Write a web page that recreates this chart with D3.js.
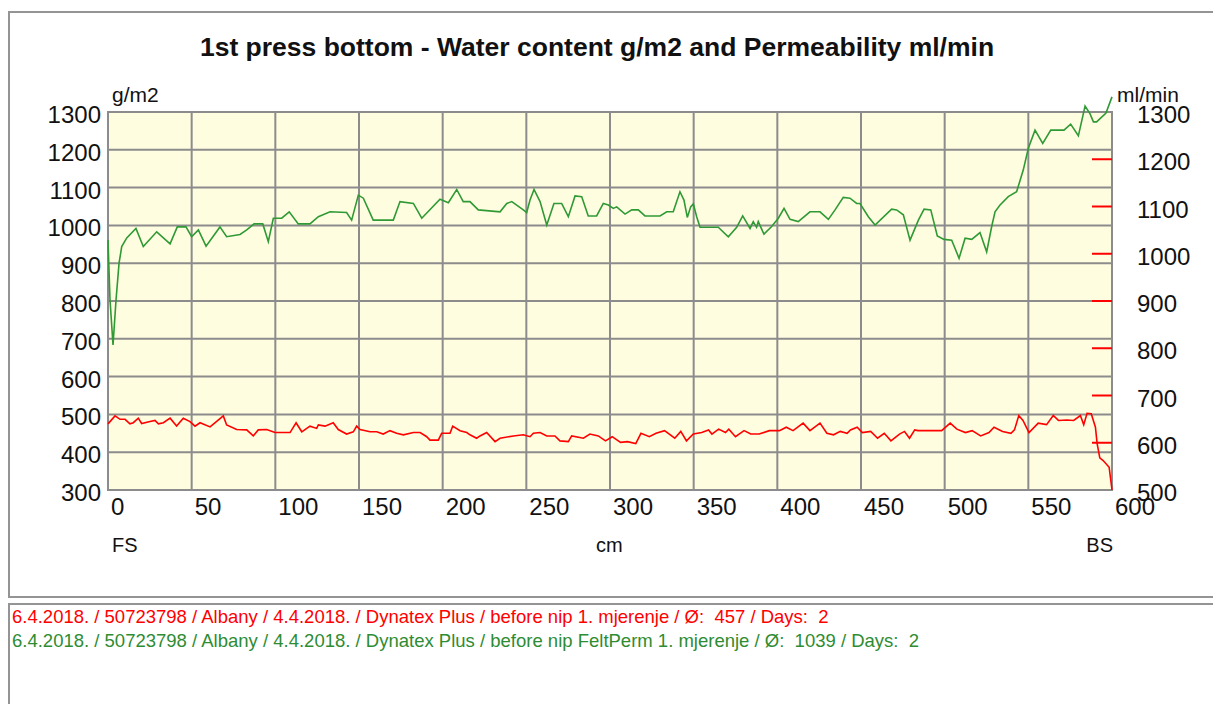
<!DOCTYPE html>
<html>
<head>
<meta charset="utf-8">
<script src="https://cdn.jsdelivr.net/npm/d3@7"></script>
<style>
    body { margin: 0; background: #ffffff; }
    svg { display: block; font-family: Arial, "Liberation Sans", sans-serif; }
</style>
</head>
<body>
<div id="chart"></div>
<script>
// Water content (red) - position in cm and g/m2
const redCm = [0, 4.2, 7.2, 10.2, 13.1, 15.1, 18.1, 20.1, 25.1, 28.1, 30.1, 33.1, 37.1, 41.0, 45.0, 49.0, 52.0, 55.0, 61.0, 68.9,
    70.9, 76.9, 82.9, 86.8, 89.8, 94.8, 99.8, 108.8, 112.4, 115.8, 120.7, 124.7, 125.7, 129.7, 134.6, 137.6, 142.6, 146.6, 148.6, 150.6,
    156.6, 160.6, 164.5, 168.5, 172.5, 176.5, 182.5, 186.5, 190.5, 192.4, 197.4, 199.4, 204.4, 206.0, 210.4, 214.4, 216.3, 220.3, 222.3, 226.3,
    231.3, 234.3, 242.2, 248.2, 252.2, 254.2, 258.2, 262.2, 267.1, 270.1, 275.1, 277.1, 284.1, 288.0, 293.0, 297.3, 301.3, 306.3, 310.4, 315.4,
    318.5, 323.5, 327.5, 332.6, 338.7, 342.3, 345.7, 349.8, 354.8, 358.9, 360.9, 364.9, 369.0, 371.0, 375.0, 380.1, 384.1, 389.2, 395.2, 401.3,
    405.3, 409.4, 415.4, 419.5, 425.5, 429.6, 433.6, 437.6, 441.7, 443.7, 447.7, 450.8, 455.8, 459.9, 463.9, 467.9, 473.0, 476.0, 479.0, 482.1,
    484.1, 498.2, 503.3, 507.3, 512.4, 516.4, 521.5, 526.5, 529.5, 534.6, 539.6, 541.7, 544.3, 546.8, 550.4, 555.9, 560.9, 564.9, 568.0, 573.0,
    577.1, 581.1, 583.1, 585.1, 587.6, 590.1, 591.1, 592.7, 594.7, 598.3, 600];
const redVal = [475, 496, 487, 487, 475, 478, 490, 476, 481, 484, 475, 478, 490, 469, 490, 481, 469, 478, 467, 496,
    472, 460, 459, 443, 459, 460, 452, 452, 478, 454, 469, 463, 472, 469, 478, 460, 448, 454, 469, 460,
    454, 454, 448, 457, 450, 446, 452, 452, 441, 432, 432, 450, 450, 469, 457, 452, 446, 437, 443, 452,
    428, 437, 443, 446, 441, 450, 452, 443, 443, 430, 428, 443, 437, 448, 443, 430, 441, 426, 428, 423,
    450, 441, 450, 457, 437, 455, 430, 448, 452, 459, 448, 461, 452, 461, 441, 457, 448, 448, 457, 457,
    466, 457, 477, 457, 477, 450, 446, 455, 450, 459, 466, 452, 455, 437, 450, 430, 448, 455, 437, 459,
    457, 457, 477, 461, 452, 457, 443, 452, 466, 455, 450, 459, 497, 484, 452, 477, 473, 497, 484, 485,
    484, 497, 473, 503, 502, 466, 423, 385, 378, 360, 300];

// Permeability (green) - position in cm and ml/min
const greenCm = [0, 1.2, 3.0, 4.8, 6.6, 8.2, 11.2, 16.7, 21.1, 29.1, 37.1, 41.4, 46.6, 50.0, 54.0, 58.6, 66.9, 70.9, 78.9, 82.9,
    87.3, 92.5, 95.8, 98.8, 103.8, 108.3, 113.7, 120.7, 125.7, 132.7, 142.6, 145.6, 149.6, 152.6, 158.5, 170.5, 174.5, 182.5, 187.5, 198.4,
    203.4, 208.4, 212.3, 216.3, 221.3, 234.3, 238.3, 241.3, 248.2, 250.2, 252.2, 254.6, 258.2, 262.2, 266.5, 271.1, 275.1, 279.1, 283.1, 287.0,
    292.0, 296.0, 299.0, 302.0, 304.0, 309.0, 313.0, 316.9, 320.9, 329.9, 333.9, 337.8, 341.8, 344.2, 346.2, 348.2, 349.8, 351.8, 353.8, 364.7,
    370.7, 375.7, 379.3, 383.7, 385.6, 387.6, 388.6, 392.0, 396.6, 400.6, 404.0, 407.6, 412.5, 419.5, 425.5, 430.5, 434.5, 439.4, 443.4, 447.4,
    449.4, 454.4, 458.4, 468.3, 471.3, 475.3, 479.3, 484.3, 487.7, 491.7, 495.6, 499.6, 504.2, 508.6, 512.2, 516.2, 521.1, 525.1, 528.1, 530.1,
    533.1, 538.0, 543.0, 547.0, 550.0, 554.0, 558.6, 563.4, 571.3, 575.3, 579.9, 583.9, 586.9, 588.9, 590.8, 596.4, 600];
const greenVal = [961, 803, 684, 803, 900, 944, 967, 992, 944, 983, 951, 996, 996, 970, 988, 945, 996, 970, 976, 988,
    1004, 1004, 957, 1019, 1019, 1036, 1004, 1004, 1023, 1036, 1034, 1014, 1080, 1072, 1014, 1014, 1063, 1058, 1019, 1069,
    1060, 1095, 1063, 1063, 1041, 1036, 1058, 1063, 1041, 1034, 1067, 1095, 1063, 1001, 1058, 1058, 1023, 1078, 1076, 1025,
    1025, 1058, 1054, 1045, 1049, 1030, 1041, 1041, 1025, 1025, 1036, 1036, 1089, 1067, 1021, 1049, 1057, 1023, 995, 995,
    970, 995, 1025, 992, 1010, 995, 1010, 977, 997, 1019, 1045, 1016, 1010, 1036, 1036, 1016, 1041, 1074, 1072, 1058,
    1058, 1023, 1001, 1043, 1041, 1028, 961, 1014, 1043, 1041, 972, 963, 961, 913, 966, 963, 981, 930, 997, 1036,
    1054, 1076, 1089, 1147, 1204, 1252, 1217, 1252, 1252, 1268, 1237, 1316, 1295, 1274, 1274, 1297, 1340];

// Axis ticks
const xTicks = [0, 50, 100, 150, 200, 250, 300, 350, 400, 450, 500, 550, 600];
const leftTicks = [300, 400, 500, 600, 700, 800, 900, 1000, 1100, 1200, 1300];
const rightTicks = [500, 600, 700, 800, 900, 1000, 1100, 1200, 1300];

// Legend lines
const legendLines = [
    "6.4.2018. / 50723798 / Albany / 4.4.2018. / Dynatex Plus / before nip 1. mjerenje / Ø:  457 / Days:  2",
    "6.4.2018. / 50723798 / Albany / 4.4.2018. / Dynatex Plus / before nip FeltPerm 1. mjerenje / Ø:  1039 / Days:  2"
];

let width = 1213, height = 704;
let plot = { left: 108, right: 1112, top: 112, bottom: 490 };

const redColor = "#ff0000";
const greenColor = "#2f9a35";
const gridColor = "#8c8c8c";

let svg = d3.select('#chart')
    .append('svg')
    .attr('width', width)
    .attr('height', height);

// Chart frame and legend frame
svg.append('rect')
    .attr('x', 9).attr('y', 12)
    .attr('width', 1212).attr('height', 585)
    .attr('fill', 'white')
    .attr('stroke', '#949494')
    .attr('stroke-width', 2);

svg.append('rect')
    .attr('x', 9).attr('y', 604)
    .attr('width', 1212).attr('height', 110)
    .attr('fill', 'white')
    .attr('stroke', '#949494')
    .attr('stroke-width', 2);

// Scales
let xScale = d3.scaleLinear()
    .domain([0, 600])
    .range([plot.left, plot.right]);

let yLeft = d3.scaleLinear()
    .domain([300, 1300])
    .range([plot.bottom, plot.top]);

let yRight = d3.scaleLinear()
    .domain([500, 1300])
    .range([plot.bottom, plot.top]);

// Plot background
svg.append('rect')
    .attr('x', plot.left)
    .attr('y', plot.top)
    .attr('width', plot.right - plot.left)
    .attr('height', plot.bottom - plot.top)
    .attr('fill', '#fffde0');

// Grid
svg.append('g')
    .selectAll('line')
    .data(xTicks)
    .enter().append('line')
    .attr('x1', d => xScale(d)).attr('x2', d => xScale(d))
    .attr('y1', plot.top).attr('y2', plot.bottom)
    .attr('stroke', gridColor)
    .attr('stroke-width', 2);

svg.append('g')
    .selectAll('line')
    .data(leftTicks)
    .enter().append('line')
    .attr('x1', plot.left - 1).attr('x2', plot.right + 1)
    .attr('y1', d => yLeft(d)).attr('y2', d => yLeft(d))
    .attr('stroke', gridColor)
    .attr('stroke-width', 2);

// Red ticks of the right axis
svg.append('g')
    .selectAll('line')
    .data(rightTicks.slice(1, -1))
    .enter().append('line')
    .attr('x1', plot.right - 20).attr('x2', plot.right)
    .attr('y1', d => yRight(d)).attr('y2', d => yRight(d))
    .attr('stroke', redColor)
    .attr('stroke-width', 2);

// Lines
let line = d3.line()
    .x(d => xScale(d[0]))
    .y(d => yLeft(d[1]));

svg.append('path')
    .datum(redCm.map((c, i) => [c, redVal[i]]))
    .attr('d', line)
    .attr('fill', 'none')
    .attr('stroke', redColor)
    .attr('stroke-width', 1.6);

svg.append('path')
    .datum(greenCm.map((c, i) => [c, greenVal[i]]))
    .attr('d', line)
    .attr('fill', 'none')
    .attr('stroke', greenColor)
    .attr('stroke-width', 1.6);

// Axis labels
svg.append('g')
    .selectAll('text')
    .data(leftTicks)
    .enter().append('text')
    .attr('x', 101)
    .attr('y', d => yLeft(d) + 11)
    .attr('text-anchor', 'end')
    .style('font-size', '24px')
    .attr('fill', '#111')
    .text(d => d);

svg.append('g')
    .selectAll('text')
    .data(rightTicks)
    .enter().append('text')
    .attr('x', 1137)
    .attr('y', d => yRight(d) + 11)
    .style('font-size', '24px')
    .attr('fill', '#111')
    .text(d => d);

svg.append('g')
    .selectAll('text')
    .data(xTicks)
    .enter().append('text')
    .attr('x', d => xScale(d) + 3)
    .attr('y', 515)
    .style('font-size', '24px')
    .attr('fill', '#111')
    .text(d => d);

// Units and side labels
svg.append('text')
    .attr('x', 112).attr('y', 102)
    .style('font-size', '21px')
    .attr('fill', '#111')
    .text('g/m2');

svg.append('text')
    .attr('x', 1117).attr('y', 102)
    .style('font-size', '21px')
    .attr('fill', '#111')
    .text('ml/min');

svg.append('text')
    .attr('x', 112).attr('y', 552)
    .style('font-size', '20px')
    .attr('fill', '#111')
    .text('FS');

svg.append('text')
    .attr('x', 596).attr('y', 552)
    .style('font-size', '20px')
    .attr('fill', '#111')
    .text('cm');

svg.append('text')
    .attr('x', plot.right + 1).attr('y', 552)
    .attr('text-anchor', 'end')
    .style('font-size', '20px')
    .attr('fill', '#111')
    .text('BS');

// Title
svg.append('text')
    .attr('x', 597).attr('y', 56)
    .attr('text-anchor', 'middle')
    .style('font-size', '26.5px')
    .style('font-weight', 'bold')
    .attr('fill', '#111')
    .text('1st press bottom  - Water content g/m2 and Permeability ml/min');

// Legend
svg.append('g')
    .selectAll('text')
    .data(legendLines)
    .enter().append('text')
    .attr('x', 12)
    .attr('y', (d, i) => 623 + i * 24)
    .style('font-size', '18.5px')
    .style('white-space', 'pre')
    .attr('fill', (d, i) => i == 0 ? redColor : '#2e8c32')
    .text(d => d);
</script>
</body>
</html>
